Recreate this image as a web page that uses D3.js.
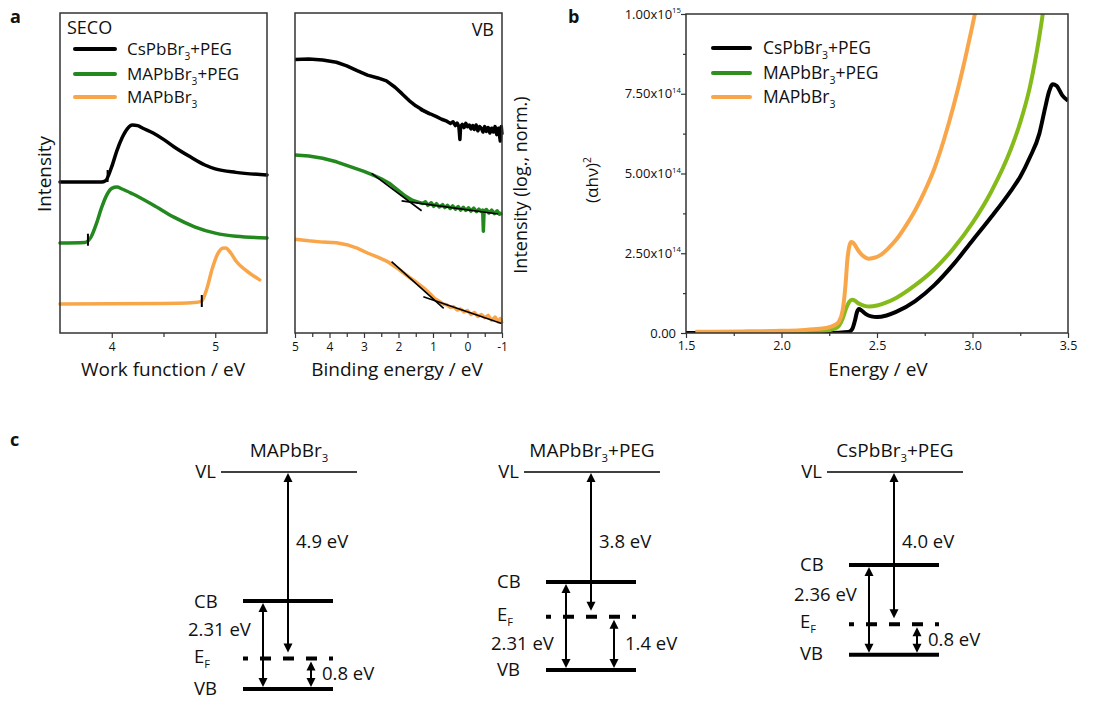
<!DOCTYPE html>
<html><head><meta charset="utf-8">
<script src="https://cdn.jsdelivr.net/npm/d3@7"></script>
<style>body{margin:0;background:#fff}svg{display:block}text{font-family:"Open Sans",sans-serif;fill:#111}</style>
</head><body><svg id="c" width="1107" height="701"></svg>
<script>
// ---------------- DATA ----------------
const seriesNames = ["CsPbBr3+PEG", "MAPbBr3+PEG", "MAPbBr3"];
// Panel a: SECO (work function eV, normalized intensity)
const secoCs = [[3.5,0.472],[3.9,0.472],[3.94,0.476],[4.0,0.52],[4.05,0.57],[4.1,0.61],[4.15,0.638],[4.2,0.65],[4.25,0.648],[4.3,0.64],[4.4,0.625],[4.5,0.605],[4.6,0.582],[4.75,0.552],[4.9,0.525],[5.0,0.513],[5.2,0.502],[5.5,0.494]];
const secoMaPeg = [[3.5,0.281],[3.74,0.283],[3.8,0.3],[3.85,0.34],[3.9,0.39],[3.95,0.43],[4.0,0.452],[4.05,0.456],[4.1,0.45],[4.2,0.435],[4.4,0.4],[4.6,0.362],[4.8,0.332],[5.0,0.312],[5.2,0.302],[5.5,0.297]];
const secoMa = [[3.5,0.091],[4.5,0.092],[4.8,0.095],[4.87,0.1],[4.92,0.14],[4.97,0.2],[5.02,0.245],[5.07,0.265],[5.1,0.266],[5.15,0.25],[5.2,0.225],[5.3,0.195],[5.43,0.166]];
const secoOnsets = [3.96, 3.77, 4.87];
const secoTicks = [4, 5];
// Panel a: VB (binding energy eV, log normalized intensity)
const vbCs = [[5.0,0.855],[4.6,0.856],[4.2,0.853],[3.8,0.846],[3.5,0.835],[3.2,0.82],[2.9,0.806],[2.6,0.797],[2.35,0.788],[2.1,0.768],[1.9,0.748],[1.7,0.727],[1.5,0.71],[1.3,0.697],[1.1,0.686],[0.9,0.676],[0.75,0.668],[0.6,0.662],[0.5,0.655],[0.42,0.66],[0.35,0.648],[0.3,0.656],[0.25,0.645],[0.22,0.605],[0.2,0.645],[0.15,0.652],[0.1,0.642],[0.05,0.655],[0.0,0.645],[-0.05,0.65],[-0.1,0.638],[-0.15,0.648],[-0.2,0.636],[-0.25,0.65],[-0.3,0.632],[-0.35,0.645],[-0.4,0.64],[-0.45,0.628],[-0.5,0.645],[-0.55,0.63],[-0.6,0.642],[-0.65,0.625],[-0.7,0.64],[-0.75,0.628],[-0.8,0.645],[-0.85,0.62],[-0.9,0.64],[-0.95,0.6],[-0.98,0.645],[-1.0,0.62]];
const vbMaPeg = [[5.0,0.556],[4.6,0.553],[4.2,0.546],[3.8,0.535],[3.4,0.52],[3.0,0.505],[2.75,0.494],[2.5,0.482],[2.27,0.468],[2.0,0.445],[1.8,0.428],[1.6,0.415],[1.45,0.41],[1.3,0.405],[1.22,0.41],[1.15,0.399],[1.05,0.407],[0.98,0.396],[0.9,0.404],[0.82,0.394],[0.72,0.401],[0.66,0.392],[0.58,0.399],[0.5,0.389],[0.43,0.397],[0.35,0.387],[0.27,0.395],[0.2,0.384],[0.12,0.393],[0.05,0.383],[-0.03,0.391],[-0.1,0.381],[-0.18,0.39],[-0.26,0.379],[-0.33,0.387],[-0.4,0.38],[-0.44,0.384],[-0.46,0.318],[-0.48,0.38],[-0.55,0.386],[-0.62,0.375],[-0.7,0.384],[-0.78,0.373],[-0.86,0.382],[-0.93,0.371],[-1.0,0.376]];
const vbMa = [[5.0,0.293],[4.6,0.288],[4.2,0.284],[3.8,0.282],[3.5,0.276],[3.2,0.265],[2.9,0.25],[2.6,0.237],[2.3,0.222],[2.0,0.2],[1.7,0.175],[1.5,0.16],[1.28,0.142],[1.1,0.124],[0.95,0.108],[0.8,0.098],[0.7,0.09],[0.6,0.088],[0.5,0.08],[0.4,0.082],[0.3,0.072],[0.2,0.075],[0.1,0.066],[0.0,0.07],[-0.1,0.058],[-0.2,0.064],[-0.3,0.052],[-0.4,0.058],[-0.5,0.048],[-0.6,0.055],[-0.7,0.04],[-0.8,0.05],[-0.9,0.034],[-0.95,0.045],[-1.0,0.03]];
const vbFits = [[1.38,0.697,1.09,0.681],[2.78,0.499,1.33,0.382],[1.91,0.413,-0.89,0.372],[2.2,0.223,0.69,0.077],[1.28,0.113,-0.99,0.03]];
const vbTicks = [5, 4, 3, 2, 1, 0, -1];
// Panel b: Tauc plot (energy eV, (αhν)^2)
const taucCs = [[1.5,0],[2.2,0],[2.3,0.001e15],[2.35,0.003e15],[2.37,0.012e15],[2.385,0.04e15],[2.395,0.065e15],[2.405,0.075e15],[2.42,0.07e15],[2.44,0.06e15],[2.47,0.052e15],[2.5,0.05e15],[2.55,0.055e15],[2.6,0.066e15],[2.7,0.1e15],[2.8,0.15e15],[2.9,0.215e15],[3.0,0.29e15],[3.1,0.365e15],[3.2,0.445e15],[3.25,0.49e15],[3.3,0.55e15],[3.35,0.625e15],[3.38,0.705e15],[3.4,0.755e15],[3.42,0.78e15],[3.44,0.775e15],[3.47,0.745e15],[3.5,0.728e15]];
const taucMaPeg = [[1.55,0.002e15],[1.9,0.003e15],[2.1,0.004e15],[2.2,0.006e15],[2.25,0.009e15],[2.28,0.014e15],[2.3,0.022e15],[2.32,0.045e15],[2.34,0.08e15],[2.355,0.098e15],[2.37,0.104e15],[2.385,0.101e15],[2.4,0.094e15],[2.43,0.086e15],[2.46,0.083e15],[2.5,0.086e15],[2.55,0.096e15],[2.6,0.11e15],[2.7,0.15e15],[2.8,0.2e15],[2.9,0.265e15],[3.0,0.345e15],[3.1,0.445e15],[3.2,0.575e15],[3.25,0.66e15],[3.3,0.77e15],[3.35,0.93e15],[3.38,1.05e15]];
const taucMa = [[1.55,0.004e15],[1.8,0.005e15],[2.0,0.007e15],[2.1,0.009e15],[2.2,0.013e15],[2.25,0.018e15],[2.28,0.025e15],[2.3,0.035e15],[2.32,0.07e15],[2.335,0.15e15],[2.345,0.23e15],[2.355,0.272e15],[2.365,0.285e15],[2.375,0.283e15],[2.39,0.27e15],[2.41,0.252e15],[2.43,0.24e15],[2.455,0.233e15],[2.48,0.235e15],[2.52,0.245e15],[2.56,0.266e15],[2.6,0.292e15],[2.65,0.335e15],[2.7,0.385e15],[2.75,0.445e15],[2.8,0.515e15],[2.85,0.605e15],[2.9,0.71e15],[2.95,0.83e15],[3.0,0.965e15],[3.03,1.05e15]];
const taucXTicks = [1.5, 2.0, 2.5, 3.0, 3.5];
const taucYTicks = [0, 2.5e14, 5e14, 7.5e14, 1e15];
const taucYMant = ["0.00", "2.50", "5.00", "7.50", "1.00"];
const taucYExp = [null, "14", "14", "14", "15"];
// Panel c: energy level diagrams
const diagNames = ["MAPbBr3", "MAPbBr3+PEG", "CsPbBr3+PEG"];
const workFunction = [4.9, 3.8, 4.0];
const bandGap = [2.31, 2.31, 2.36];
const efToVb = [0.8, 1.4, 0.8];

// ---------------- STYLE ----------------
const colBlack = "#000", colOrange = "#f9a64a", colGreenA = "#23891f", colGreenB = "#84bb1a", colGreenLeg = "#2e8f1d";

const svg = d3.select("#c");
svg.append("rect").attr("width",1107).attr("height",701).attr("fill","#fff");

function rich(g, x, y, segs, fs, anchor, extra) {
  const t = g.append("text").attr("x", x).attr("y", y).attr("font-size", fs).attr("text-anchor", anchor || "start");
  let shift = 0;
  segs.forEach(s => {
    const target = s[1] === "sub" ? fs*0.27 : s[1] === "sup" ? -fs*0.42 : 0;
    t.append("tspan").attr("dy", target - shift).attr("font-size", s[1] ? fs*0.6 : fs).text(s[0]);
    shift = target;
  });
  if (extra) extra(t);
  return t;
}
function nameSegs(n) {
  const i = n.indexOf("3");
  return [[n.slice(0, i)], ["3", "sub"], [n.slice(i+1)]];
}
function interp(arr, x) {
  for (let i = 0; i < arr.length-1; i++) {
    const a = arr[i], b = arr[i+1];
    if ((x - a[0]) * (x - b[0]) <= 0) return a[1] + (b[1]-a[1])*(x-a[0])/(b[0]-a[0]);
  }
  return arr[0][1];
}
function styleAxis(ax, fs) {
  ax.select(".domain").remove();
  ax.selectAll("line").attr("stroke","#333").attr("stroke-width",1.2);
  ax.selectAll("text").attr("font-size",fs).attr("font-family","Open Sans").attr("fill","#111");
}

// panel letters
[["a",10,23],["b",568,23],["c",10,446]].forEach(d => svg.append("text").attr("x",d[1]).attr("y",d[2]).attr("font-size",18).attr("font-weight","bold").text(d[0]));

// ---------------- PANEL a: SECO ----------------
const xA = d3.scaleLinear().domain([3.5, 5.5]).range([60, 267]);
const yA = d3.scaleLinear().domain([0, 1]).range([333, 13]);
const gA = svg.append("g");
const lineA = d3.line().x(d => xA(d[0])).y(d => yA(d[1])).curve(d3.curveMonotoneX);
const secoSeries = [secoCs, secoMaPeg, secoMa];
const colsA = [colBlack, colGreenA, colOrange];
secoSeries.forEach((s, i) => gA.append("path").attr("d", lineA(s)).attr("fill","none").attr("stroke", colsA[i]).attr("stroke-width", 3.5).attr("stroke-linecap","round"));
secoOnsets.forEach((e, i) => {
  const yy = yA(interp(secoSeries[i], e));
  gA.append("line").attr("x1", xA(e)).attr("x2", xA(e)).attr("y1", yy-6).attr("y2", yy+6).attr("stroke","#000").attr("stroke-width",2);
});
gA.append("rect").attr("x",60).attr("y",13).attr("width",207).attr("height",320).attr("fill","none").attr("stroke","#333").attr("stroke-width",1.5);
const axA = gA.append("g").attr("transform","translate(0,333)").call(d3.axisBottom(xA).tickValues(secoTicks).tickSize(5).tickPadding(4).tickFormat(d3.format("d")));
styleAxis(axA, 12);
styleAxis(gA.append("g").attr("transform","translate(0,333)").call(d3.axisBottom(xA).tickValues([4.5]).tickSize(4).tickFormat("")), 12);
gA.append("text").attr("x",163).attr("y",376).attr("text-anchor","middle").attr("font-size",19).text("Work function / eV");
gA.append("text").attr("transform","translate(44,174) rotate(-90)").attr("dy","0.35em").attr("text-anchor","middle").attr("font-size",19).text("Intensity");
gA.append("text").attr("x",67).attr("y",34).attr("font-size",18).text("SECO");
const legA = [49, 74, 97];
seriesNames.forEach((n, i) => {
  gA.append("line").attr("x1",75).attr("x2",115).attr("y1",legA[i]).attr("y2",legA[i]).attr("stroke",colsA[i]).attr("stroke-width",4).attr("stroke-linecap","round");
  rich(gA, 127, legA[i]+6, nameSegs(n), 17, "start");
});

// ---------------- PANEL a: VB ----------------
const xV = d3.scaleLinear().domain([5, -1]).range([295, 502]);
const gV = svg.append("g");
const lineV = d3.line().x(d => xV(d[0])).y(d => yA(d[1])).curve(d3.curveLinear);
[vbCs, vbMaPeg, vbMa].forEach((s, i) => gV.append("path").attr("d", lineV(s)).attr("fill","none").attr("stroke", colsA[i]).attr("stroke-width", 3.5).attr("stroke-linejoin","round"));
vbFits.forEach(f => gV.append("line").attr("x1",xV(f[0])).attr("y1",yA(f[1])).attr("x2",xV(f[2])).attr("y2",yA(f[3])).attr("stroke","#000").attr("stroke-width",1.6));
gV.append("rect").attr("x",295).attr("y",13).attr("width",207).attr("height",320).attr("fill","none").attr("stroke","#333").attr("stroke-width",1.5);
const axV = gV.append("g").attr("transform","translate(0,333)").call(d3.axisBottom(xV).tickValues(vbTicks).tickSize(5).tickPadding(4).tickFormat(d => d < 0 ? "-" + Math.abs(d) : d));
styleAxis(axV, 12);
styleAxis(gV.append("g").attr("transform","translate(0,333)").call(d3.axisBottom(xV).tickValues([4.5,3.5,2.5,1.5,0.5,-0.5]).tickSize(4).tickFormat("")), 12);
gV.append("text").attr("x",397).attr("y",376).attr("text-anchor","middle").attr("font-size",19).text("Binding energy / eV");
gV.append("text").attr("x",494).attr("y",36).attr("text-anchor","end").attr("font-size",18).text("VB");
gV.append("text").attr("transform","translate(521,185) rotate(-90)").attr("dy","0.35em").attr("text-anchor","middle").attr("font-size",18).text("Intensity (log., norm.)");

// ---------------- PANEL b: Tauc ----------------
const xB = d3.scaleLinear().domain([1.5, 3.5]).range([686, 1068]);
const yB = d3.scaleLinear().domain([0, 1e15]).range([333, 14]);
const gB = svg.append("g");
svg.append("defs").append("clipPath").attr("id","clipB").append("rect").attr("x",686).attr("y",14).attr("width",382).attr("height",319);
const lineB = d3.line().x(d => xB(d[0])).y(d => yB(d[1])).curve(d3.curveMonotoneX);
const colsB = [colBlack, colGreenB, colOrange];
const gBc = gB.append("g").attr("clip-path","url(#clipB)");
[taucCs, taucMaPeg, taucMa].forEach((s, i) => gBc.append("path").attr("d", lineB(s)).attr("fill","none").attr("stroke", colsB[i]).attr("stroke-width", 4));
gB.append("rect").attr("x",686).attr("y",14).attr("width",382).attr("height",319).attr("fill","none").attr("stroke","#333").attr("stroke-width",1.5);
const axBx = gB.append("g").attr("transform","translate(0,333)").call(d3.axisBottom(xB).tickValues(taucXTicks).tickSize(5).tickPadding(3).tickFormat(d3.format(".1f")));
styleAxis(axBx, 12.5);
styleAxis(gB.append("g").attr("transform","translate(0,333)").call(d3.axisBottom(xB).tickValues([1.75,2.25,2.75,3.25]).tickSize(3).tickFormat("")), 12);
styleAxis(gB.append("g").attr("transform","translate(686,0)").call(d3.axisLeft(yB).tickValues(taucYTicks).tickSize(5).tickFormat("")), 12);
styleAxis(gB.append("g").attr("transform","translate(686,0)").call(d3.axisLeft(yB).tickValues([1.25e14,3.75e14,6.25e14,8.75e14]).tickSize(3).tickFormat("")), 12);
taucYTicks.forEach((v, i) => {
  const segs = taucYExp[i] ? [[taucYMant[i] + "x10"], [taucYExp[i], "sup"]] : [[taucYMant[i]]];
  rich(gB, taucYExp[i] ? 681 : 676, yB(v) + 4.5, segs, 13, "end");
});
gB.append("text").attr("x",878).attr("y",376).attr("text-anchor","middle").attr("font-size",19).text("Energy / eV");
rich(gB, 0, 0, [["(αhν)"], ["2", "sup"]], 17, "middle", t => t.attr("transform","translate(598,180) rotate(-90)").attr("dy","0.35em"));
const legB = [48, 73, 97];
const legColsB = [colBlack, colGreenLeg, colOrange];
seriesNames.forEach((n, i) => {
  gB.append("line").attr("x1",713).attr("x2",750).attr("y1",legB[i]).attr("y2",legB[i]).attr("stroke",legColsB[i]).attr("stroke-width",4).attr("stroke-linecap","round");
  rich(gB, 763, legB[i]+6, nameSegs(n), 17.5, "start");
});

// ---------------- PANEL c: energy levels ----------------
const xC = d3.scalePoint().domain(diagNames).range([288, 894]);
const yC = d3.scaleLinear().domain([0, -5.7]).range([472, 689]);
const gC = svg.append("g");
const fsC = 18.5;
function arrow(x, yTop, yBot) {
  const h = 9, w = 4.5;
  gC.append("line").attr("x1",x).attr("x2",x).attr("y1",yTop+h-1).attr("y2",yBot-h+1).attr("stroke","#000").attr("stroke-width",2);
  gC.append("path").attr("d",`M${x},${yTop}L${x-w},${yTop+h}L${x+w},${yTop+h}Z`).attr("fill","#000");
  gC.append("path").attr("d",`M${x},${yBot}L${x-w},${yBot-h}L${x+w},${yBot-h}Z`).attr("fill","#000");
}
diagNames.forEach((n, i) => {
  const c = xC(n);
  const vl = yC(0), ef = yC(-workFunction[i]), vb = yC(-workFunction[i]-efToVb[i]), cb = yC(-workFunction[i]-efToVb[i]+bandGap[i]);
  rich(gC, c+1, vl-15, nameSegs(n), 19, "middle");
  gC.append("line").attr("x1",c-67).attr("x2",c+69).attr("y1",vl).attr("y2",vl).attr("stroke","#000").attr("stroke-width",1.5);
  gC.append("line").attr("x1",c-45).attr("x2",c+45).attr("y1",cb).attr("y2",cb).attr("stroke","#000").attr("stroke-width",4);
  gC.append("line").attr("x1",c-45).attr("x2",c+45).attr("y1",vb).attr("y2",vb).attr("stroke","#000").attr("stroke-width",4);
  gC.append("line").attr("x1",c-45).attr("x2",c+45).attr("y1",ef).attr("y2",ef).attr("stroke","#000").attr("stroke-width",4).attr("stroke-dasharray","11,12").attr("stroke-dashoffset",6);
  arrow(c, vl+1, ef-6);
  arrow(c-25, cb+2, vb-2);
  arrow(c+23, ef+3, vb-2);
  gC.append("text").attr("x",c-72).attr("y",vl).attr("dy","0.35em").attr("text-anchor","end").attr("font-size",fsC).text("VL");
  gC.append("text").attr("x",c-94).attr("y",cb).attr("dy","0.35em").attr("font-size",fsC).text("CB");
  gC.append("text").attr("x",c-94).attr("y",vb).attr("dy","0.3em").attr("font-size",fsC).text("VB");
  rich(gC, c-94, ef+4, [["E"],["F","sub"]], fsC, "start");
  gC.append("text").attr("x",c+8).attr("y",vl+70).attr("dy","0.35em").attr("font-size",fsC).text(workFunction[i].toFixed(1) + " eV");
  const gy = (ef-cb) > (vb-ef) ? (cb+ef)/2 : (ef+vb)/2;
  gC.append("text").attr("x",c-100).attr("y",gy).attr("dy","0.35em").attr("font-size",fsC).text(bandGap[i].toFixed(2) + " eV");
  gC.append("text").attr("x",c+34).attr("y",(ef+vb)/2).attr("dy","0.35em").attr("font-size",fsC).text(efToVb[i].toFixed(1) + " eV");
});
</script></body></html>
